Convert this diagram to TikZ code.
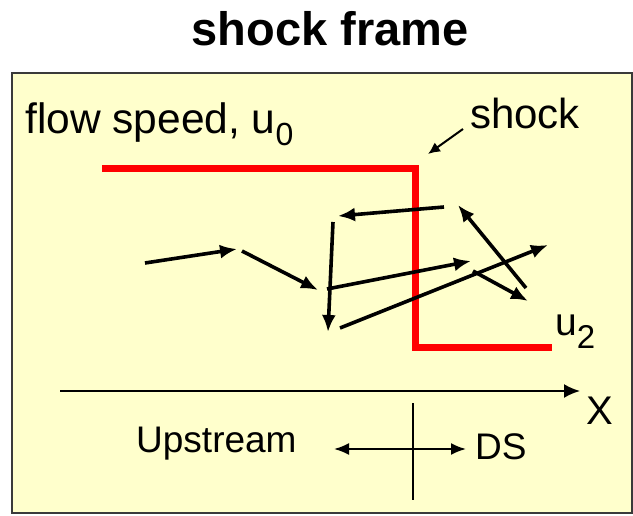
\documentclass[tikz,border=0pt]{standalone}
\usepackage{fontspec}
\setmainfont{Liberation Sans}
\usepackage{xcolor}
\usetikzlibrary{arrows.meta}
\definecolor{paper}{HTML}{FFFFCC}
\definecolor{edge}{HTML}{3A3A3A}
\definecolor{shockred}{HTML}{FF0000}
\newcommand{\lowidx}[3]{\raisebox{-#1}{\fontsize{#2}{#2}\selectfont #3}}

\begin{document}
\begin{tikzpicture}[
  x=1pt, y=-1pt,
  txt/.style={inner sep=0pt, anchor=base west, font=\fontsize{40}{46}\selectfont},
  frame/.style={draw=edge, line width=2pt, fill=paper},
  profile/.style={draw=shockred, line width=7pt},
  hop/.style={-{Latex[length=17pt, width=14pt]}, line width=3.6pt},
  pointer/.style={-{Latex[length=12pt, width=11pt]}, line width=2pt},
  axis/.style={-{Latex[length=16pt, width=14pt]}, line width=2pt},
  both/.style={{Latex[length=15pt, width=12pt]}-{Latex[length=15pt, width=12pt]}, line width=2pt}
]
\useasboundingbox (0,0) rectangle (633,515);

\draw[frame] (12,73) rectangle (632,513);

% title and labels
\node[txt, anchor=base, font=\fontsize{47}{52}\selectfont\bfseries] (title) at (330,45) {shock frame};
\node[txt, font=\fontsize{42.5}{48}\selectfont] (flow) at (25,133) {flow speed, u\lowidx{12pt}{32}{0}};
\node[txt, font=\fontsize{42}{48}\selectfont] (shk) at (470,128) {shock};
\node[txt, font=\fontsize{39}{44}\selectfont] (down) at (555,335) {u\lowidx{13pt}{33}{2}};
\node[txt, font=\fontsize{40}{44}\selectfont] (xlab) at (586,424) {X};
\node[txt, font=\fontsize{37}{42}\selectfont] (ups) at (136,452) {Upstream};
\node[txt, font=\fontsize{37}{42}\selectfont] (ds) at (475,459) {DS};

% shock profile
\coordinate (p0) at (102,168);
\coordinate (p1) at (415,168);
\coordinate (p2) at (415,347);
\coordinate (p3) at (552,347);
\draw[profile] (p0) -- (p1) -- (p2) -- (p3);

\coordinate (ptail) at (463,129);
\coordinate (phead) at (428,154);
\draw[pointer] (ptail) -- (phead);

% particle path
\coordinate (s1) at (145,263); \coordinate (e1) at (237,249);
\coordinate (s2) at (242,251); \coordinate (e2) at (318,290);
\coordinate (s3) at (327,289); \coordinate (e3) at (471,261);
\coordinate (s4) at (473,271); \coordinate (e4) at (528,301);
\coordinate (s5) at (526,288); \coordinate (e5) at (458,205);
\coordinate (s6) at (444,207); \coordinate (e6) at (338,216);
\coordinate (s7) at (333,222); \coordinate (e7) at (328,332);
\coordinate (s8) at (340,328); \coordinate (e8) at (548,245);
\foreach \i in {1,...,8}
  \draw[hop] (s\i) -- (e\i);

% x axis and directions
\coordinate (x0) at (60,391);
\coordinate (x1) at (580,391);
\draw[axis] (x0) -- (x1);

\coordinate (v0) at (413,403);
\coordinate (v1) at (413,500);
\draw[line width=1.5pt] (v0) -- (v1);

\coordinate (l0) at (334,449);
\coordinate (l1) at (466,449);
\draw[both] (l0) -- (l1);

\end{tikzpicture}
\end{document}
